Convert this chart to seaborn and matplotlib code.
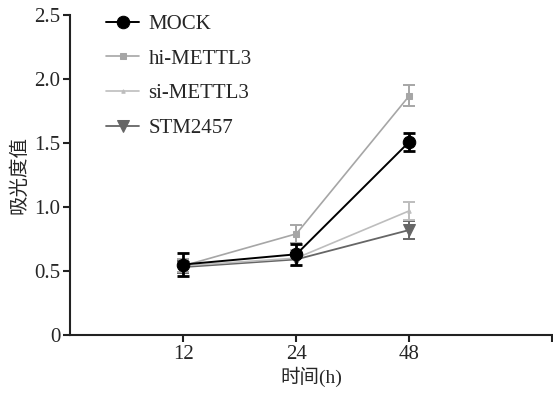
import matplotlib
matplotlib.use('Agg')
import seaborn as sns
import pandas as pd
import matplotlib.pyplot as plt

# data
times = ['12', '24', '48']
groups = ['MOCK', 'hi-METTL3', 'si-METTL3', 'STM2457']
mock = [0.55, 0.63, 1.51]
mock_sd = [0.09, 0.08, 0.07]
hi = [0.54, 0.79, 1.87]
hi_sd = [0.05, 0.07, 0.08]
si = [0.54, 0.60, 0.97]
si_sd = [0.05, 0.06, 0.07]
stm = [0.53, 0.59, 0.82]
stm_sd = [0.05, 0.05, 0.07]

sns.set_style('ticks')
plt.rcParams['font.family'] = ['Liberation Serif', 'Noto Sans CJK SC']

pos = {t: i + 1 for i, t in enumerate(times)}
rows = []
for g, m, s in zip(groups, [mock, hi, si, stm], [mock_sd, hi_sd, si_sd, stm_sd]):
    for t, v, e in zip(times, m, s):
        rows.append({'time': t, 'x': pos[t], 'group': g, 'value': v, 'sd': e})
df = pd.DataFrame(rows)

palette = {'MOCK': '#000000', 'hi-METTL3': '#a6a6a6', 'si-METTL3': '#bdbdbd', 'STM2457': '#666666'}
markers = {'MOCK': 'o', 'hi-METTL3': 's', 'si-METTL3': '^', 'STM2457': 'v'}
msize = {'MOCK': 9, 'hi-METTL3': 4, 'si-METTL3': 2.5, 'STM2457': 9}
lw = {'MOCK': 1.4, 'hi-METTL3': 1.2, 'si-METTL3': 1.2, 'STM2457': 1.3}

fig = plt.figure(figsize=(5.53, 3.94), dpi=100)
ax = fig.add_axes([0.127, 0.15, 0.871, 0.812])

for g in groups[::-1]:
    d = df[df['group'] == g]
    ax.errorbar(d['x'], d['value'], yerr=d['sd'], fmt='none', ecolor=palette[g],
                elinewidth=2 if g == 'MOCK' else 1.4, capsize=4.5, capthick=2 if g == 'MOCK' else 1.4,
                zorder=3 if g == 'MOCK' else 2)
    sns.lineplot(data=d, x='x', y='value', color=palette[g], marker=markers[g],
                 markersize=msize[g], markeredgecolor=palette[g], linewidth=lw[g],
                 label=g, ax=ax, zorder=4 if g == 'MOCK' else 2)

handles, labels = ax.get_legend_handles_labels()
order = [labels.index(g) for g in groups]
ax.legend([handles[i] for i in order], groups, loc='upper left', bbox_to_anchor=(0.035, 1.06),
          frameon=False, fontsize=15, labelspacing=0.72, handlelength=1.6, handletextpad=0.45)

ax.set_xlim(0, 4.26)
ax.set_ylim(0, 2.5)
ax.set_xticks([1, 2, 3])
ax.set_xticklabels(times)
ax.set_xticks([4.26], minor=True)
ax.set_yticks([0, 0.5, 1.0, 1.5, 2.0, 2.5])
ax.set_yticklabels(['0', '0.5', '1.0', '1.5', '2.0', '2.5'])
ax.tick_params(axis='both', which='both', labelsize=15, length=5, width=1.5, color='#222222',
               direction='out', pad=2)
ax.set_xlabel('时间(h)', fontsize=14, labelpad=2)
ax.set_ylabel('吸光度值', fontsize=14, labelpad=4)
for s in ['left', 'bottom']:
    ax.spines[s].set_linewidth(1.5)
    ax.spines[s].set_color('#222222')
sns.despine(ax=ax)

fig.savefig('out.png', dpi=100)
